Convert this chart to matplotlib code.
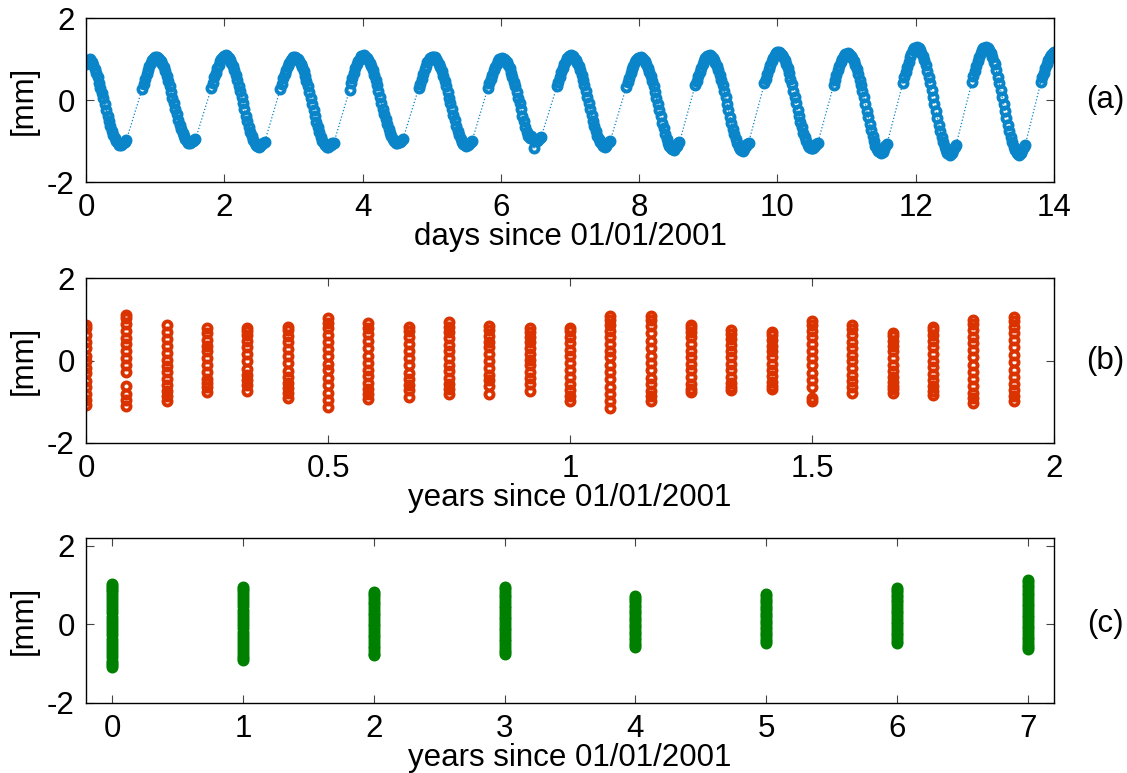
"""Tide-gauge style sampling figure: 14 days of half-hourly samples (a),
monthly snapshots over 2 years (b) and yearly snapshots over 7 years (c)."""

import numpy as np
import matplotlib
matplotlib.use("Agg")
import matplotlib.pyplot as plt

plt.rcParams["font.family"] = ["Liberation Sans", "DejaVu Sans"]
plt.rcParams["axes.unicode_minus"] = False

# --- (a) half-hourly record, days 0..14 ---------------------------------------------
# each day: slots 0..28 (descending limb) then slots 39..47 (rising limb); 29..38 missing
KEPT_SLOTS = list(range(0, 29)) + list(range(39, 48))
SLOTS_PER_DAY = 48

DAY_00 = [0.88, 0.93, 0.97, 0.99, 0.92, 0.86, 0.76, 0.66, 0.55, 0.42, 0.30, 0.17, 0.04, -0.10, -0.24,
          -0.38, -0.51, -0.64, -0.75, -0.85, -0.93, -1.00, -1.05, -1.09, -1.10, -1.08, -1.05, -1.02, -0.98,
          0.27, 0.40, 0.52, 0.63, 0.74, 0.84, 0.90, 0.97, 1.02]
DAY_01 = [1.04, 1.06, 1.03, 1.00, 0.94, 0.88, 0.80, 0.70, 0.58, 0.46, 0.33, 0.20, 0.06, -0.08, -0.22,
          -0.35, -0.48, -0.60, -0.71, -0.81, -0.89, -0.95, -1.00, -1.04, -1.05, -1.03, -1.00, -0.97, -0.96,
          0.29, 0.42, 0.55, 0.66, 0.78, 0.86, 0.95, 1.01, 1.06]
DAY_02 = [1.08, 1.10, 1.07, 1.03, 0.97, 0.90, 0.82, 0.72, 0.61, 0.48, 0.35, 0.21, 0.07, -0.08, -0.23,
          -0.38, -0.52, -0.65, -0.78, -0.89, -0.98, -1.05, -1.10, -1.13, -1.15, -1.12, -1.08, -1.05, -1.03,
          0.28, 0.40, 0.53, 0.64, 0.74, 0.83, 0.91, 0.97, 1.01]
DAY_03 = [1.04, 1.05, 1.03, 1.00, 0.95, 0.88, 0.80, 0.70, 0.59, 0.46, 0.33, 0.20, 0.06, -0.09, -0.24,
          -0.39, -0.53, -0.66, -0.79, -0.90, -0.99, -1.06, -1.10, -1.14, -1.15, -1.13, -1.09, -1.06, -1.05,
          0.25, 0.41, 0.54, 0.67, 0.77, 0.87, 0.95, 1.01, 1.07]
DAY_04 = [1.08, 1.10, 1.06, 1.03, 0.98, 0.91, 0.83, 0.73, 0.62, 0.49, 0.36, 0.22, 0.07, -0.07, -0.21,
          -0.34, -0.47, -0.59, -0.70, -0.80, -0.88, -0.95, -1.00, -1.04, -1.05, -1.03, -1.02, -0.99, -0.96,
          0.29, 0.40, 0.52, 0.64, 0.75, 0.84, 0.92, 0.98, 1.03]
DAY_05 = [1.05, 1.06, 1.04, 1.00, 0.95, 0.89, 0.80, 0.70, 0.59, 0.47, 0.34, 0.20, 0.06, -0.08, -0.23,
          -0.37, -0.50, -0.63, -0.75, -0.86, -0.95, -1.02, -1.07, -1.10, -1.12, -1.10, -1.07, -1.03, -1.00,
          0.29, 0.41, 0.51, 0.62, 0.72, 0.81, 0.89, 0.94, 0.99]
DAY_06 = [1.01, 1.02, 1.00, 0.97, 0.92, 0.85, 0.77, 0.67, 0.57, 0.45, 0.33, 0.19, 0.06, -0.08, -0.23,
          -0.38, -0.52, -0.65, -0.77, -0.88, -0.92, -0.88, -0.96, -1.17, -0.99, -1.01, -0.97, -0.93, -0.90,
          0.34, 0.45, 0.57, 0.68, 0.78, 0.88, 0.96, 1.02, 1.07]
DAY_07 = [1.08, 1.10, 1.07, 1.03, 0.98, 0.91, 0.83, 0.73, 0.62, 0.49, 0.36, 0.22, 0.07, -0.08, -0.23,
          -0.37, -0.51, -0.64, -0.76, -0.87, -0.96, -1.03, -1.08, -1.12, -1.14, -1.11, -1.06, -1.02, -0.99,
          0.32, 0.43, 0.54, 0.65, 0.75, 0.84, 0.92, 0.98, 1.03]
DAY_08 = [1.03, 1.05, 1.03, 0.99, 0.94, 0.88, 0.79, 0.69, 0.58, 0.46, 0.33, 0.20, 0.06, -0.09, -0.25,
          -0.40, -0.55, -0.69, -0.82, -0.94, -1.04, -1.12, -1.17, -1.20, -1.22, -1.18, -1.12, -1.06, -1.03,
          0.37, 0.47, 0.58, 0.69, 0.79, 0.88, 0.96, 1.02, 1.07]
DAY_09 = [1.08, 1.10, 1.07, 1.03, 0.98, 0.91, 0.83, 0.73, 0.62, 0.49, 0.36, 0.22, 0.07, -0.09, -0.25,
          -0.41, -0.56, -0.70, -0.84, -0.96, -1.06, -1.14, -1.19, -1.22, -1.24, -1.20, -1.13, -1.08, -1.04,
          0.41, 0.52, 0.64, 0.75, 0.85, 0.95, 1.03, 1.10, 1.15]
DAY_10 = [1.16, 1.18, 1.15, 1.10, 1.04, 0.97, 0.88, 0.77, 0.65, 0.52, 0.38, 0.23, 0.08, -0.08, -0.24,
          -0.39, -0.53, -0.67, -0.80, -0.91, -1.01, -1.09, -1.14, -1.17, -1.18, -1.16, -1.12, -1.08, -1.05,
          0.37, 0.50, 0.62, 0.73, 0.83, 0.93, 1.01, 1.07, 1.12]
DAY_11 = [1.12, 1.14, 1.12, 1.08, 1.02, 0.95, 0.86, 0.75, 0.63, 0.50, 0.37, 0.22, 0.07, -0.09, -0.26,
          -0.42, -0.58, -0.73, -0.87, -1.00, -1.11, -1.19, -1.25, -1.28, -1.30, -1.26, -1.19, -1.13, -1.08,
          0.41, 0.55, 0.69, 0.81, 0.93, 1.04, 1.13, 1.21, 1.27]
DAY_12 = [1.28, 1.30, 1.27, 1.22, 1.15, 1.07, 0.97, 0.85, 0.71, 0.56, 0.41, 0.25, 0.08, -0.09, -0.27,
          -0.44, -0.60, -0.76, -0.90, -1.03, -1.14, -1.23, -1.29, -1.32, -1.34, -1.30, -1.22, -1.15, -1.10,
          0.45, 0.58, 0.71, 0.83, 0.95, 1.05, 1.14, 1.22, 1.27]
DAY_13 = [1.28, 1.30, 1.27, 1.21, 1.14, 1.04, 0.93, 0.88, 0.72, 0.57, 0.41, 0.25, 0.08, -0.09, -0.27,
          -0.44, -0.60, -0.76, -0.90, -1.03, -1.14, -1.23, -1.29, -1.32, -1.34, -1.30, -1.22, -1.15, -1.10,
          0.45, 0.56, 0.67, 0.78, 0.88, 0.97, 1.04, 1.10, 1.14]
LAST_SAMPLE = 1.18  # day 14, slot 0

TIDE_DAYS = [DAY_00, DAY_01, DAY_02, DAY_03, DAY_04, DAY_05, DAY_06,
             DAY_07, DAY_08, DAY_09, DAY_10, DAY_11, DAY_12, DAY_13]

# --- (b) one day of samples at the start of each month, 24 months -------------------
MONTH_COLUMNS = [
    [0.85, 0.78, 0.62, 0.45, 0.30, 0.12, -0.02, -0.18, -0.30, -0.50, -0.64, -0.80, -0.95, -1.08],
    [1.10, 1.02, 0.88, 0.72, 0.55, 0.40, 0.22, 0.05, -0.10, -0.28, -0.62, -0.80, -0.95, -1.11],
    [0.85, 0.70, 0.52, 0.36, 0.18, 0.02, -0.14, -0.28, -0.45, -0.60, -0.75, -0.87, -0.99],
    [0.80, 0.66, 0.50, 0.36, 0.22, 0.05, -0.12, -0.28, -0.44, -0.55, -0.64, -0.77],
    [0.80, 0.72, 0.62, 0.48, 0.32, 0.15, -0.02, -0.20, -0.36, -0.48, -0.60, -0.73],
    [0.82, 0.74, 0.60, 0.44, 0.27, 0.12, -0.06, -0.25, -0.40, -0.55, -0.66, -0.78, -0.92],
    [1.02, 0.92, 0.80, 0.62, 0.45, 0.28, 0.10, -0.08, -0.24, -0.42, -0.60, -0.78, -0.96, -1.12],
    [0.92, 0.80, 0.64, 0.48, 0.30, 0.12, -0.05, -0.22, -0.38, -0.55, -0.70, -0.82, -0.93],
    [0.82, 0.72, 0.58, 0.40, 0.22, 0.06, -0.12, -0.30, -0.46, -0.60, -0.72, -0.89],
    [0.94, 0.82, 0.68, 0.54, 0.38, 0.22, 0.06, -0.10, -0.26, -0.42, -0.56, -0.70, -0.81],
    [0.84, 0.74, 0.60, 0.46, 0.32, 0.16, 0.00, -0.18, -0.34, -0.48, -0.62, -0.80],
    [0.78, 0.70, 0.58, 0.44, 0.30, 0.16, 0.02, -0.12, -0.28, -0.42, -0.56, -0.73],
    [0.80, 0.72, 0.58, 0.42, 0.26, 0.10, -0.06, -0.22, -0.40, -0.56, -0.72, -0.86, -0.99],
    [1.08, 0.98, 0.86, 0.72, 0.56, 0.40, 0.24, 0.08, -0.10, -0.28, -0.46, -0.64, -0.82, -0.98, -1.14],
    [1.08, 0.98, 0.84, 0.66, 0.48, 0.30, 0.12, -0.06, -0.24, -0.42, -0.58, -0.74, -0.86, -0.99],
    [0.85, 0.80, 0.70, 0.56, 0.40, 0.24, 0.08, -0.08, -0.24, -0.40, -0.56, -0.68, -0.77],
    [0.73, 0.64, 0.52, 0.38, 0.24, 0.08, -0.08, -0.24, -0.40, -0.54, -0.64, -0.71],
    [0.69, 0.62, 0.50, 0.36, 0.22, 0.08, -0.08, -0.24, -0.38, -0.52, -0.62, -0.69],
    [0.96, 0.86, 0.72, 0.56, 0.40, 0.24, 0.06, -0.12, -0.30, -0.48, -0.64, -0.90, -0.99],
    [0.85, 0.76, 0.62, 0.46, 0.30, 0.14, -0.02, -0.18, -0.34, -0.50, -0.64, -0.79],
    [0.67, 0.60, 0.48, 0.36, 0.22, 0.06, -0.10, -0.26, -0.40, -0.52, -0.62, -0.70, -0.79],
    [0.82, 0.74, 0.62, 0.48, 0.32, 0.16, 0.00, -0.16, -0.32, -0.48, -0.62, -0.74, -0.83],
    [0.98, 0.88, 0.74, 0.58, 0.42, 0.26, 0.08, -0.10, -0.28, -0.46, -0.62, -0.78, -0.92, -1.04],
    [1.06, 0.96, 0.82, 0.66, 0.50, 0.32, 0.14, -0.04, -0.22, -0.40, -0.56, -0.72, -0.86, -0.98],
]

# --- (c) samples at the start of each year, 8 years ---------------------------------
YEAR_COLUMNS = [
    [1.03, 0.98, 0.93, 0.88, 0.82, 0.76, 0.68, 0.60, 0.52, 0.44, 0.36, 0.28, 0.20, 0.12, 0.04,
     -0.04, -0.12, -0.20, -0.28, -0.36, -0.44, -0.52, -0.60, -0.68, -0.76, -0.84, -0.92, -0.98, -1.04, -1.09],
    [0.96, 0.90, 0.84, 0.77, 0.70, 0.62, 0.54, 0.46, 0.38, 0.30, 0.22, 0.14, 0.06, -0.02,
     -0.10, -0.18, -0.26, -0.34, -0.42, -0.50, -0.58, -0.66, -0.73, -0.80, -0.86, -0.90],
    [0.83, 0.78, 0.72, 0.65, 0.58, 0.51, 0.44, 0.37, 0.30, 0.23, 0.16, 0.09, 0.02,
     -0.05, -0.12, -0.19, -0.26, -0.33, -0.40, -0.47, -0.54, -0.61, -0.68, -0.74, -0.79],
    [0.96, 0.90, 0.83, 0.76, 0.69, 0.62, 0.55, 0.48, 0.41, 0.34, 0.27, 0.20, 0.13, 0.06,
     -0.01, -0.08, -0.15, -0.22, -0.29, -0.36, -0.43, -0.50, -0.57, -0.64, -0.70, -0.75],
    [0.73, 0.68, 0.62, 0.56, 0.50, 0.44, 0.38, 0.32, 0.26, 0.20, 0.14, 0.08, 0.02,
     -0.04, -0.10, -0.16, -0.22, -0.28, -0.34, -0.40, -0.46, -0.52, -0.58],
    [0.77, 0.72, 0.66, 0.60, 0.54, 0.48, 0.42, 0.36, 0.30, 0.24, 0.18, 0.12, 0.06, 0.00,
     -0.06, -0.12, -0.18, -0.24, -0.30, -0.36, -0.42, -0.48],
    [0.94, 0.88, 0.82, 0.76, 0.70, 0.63, 0.56, 0.49, 0.42, 0.35, 0.28, 0.21, 0.14, 0.07, 0.00,
     -0.07, -0.14, -0.21, -0.28, -0.35, -0.42, -0.48],
    [1.13, 1.07, 1.01, 0.95, 0.88, 0.81, 0.74, 0.67, 0.60, 0.53, 0.46, 0.39, 0.32, 0.25, 0.18,
     0.11, 0.04, -0.03, -0.10, -0.17, -0.24, -0.31, -0.38, -0.45, -0.52, -0.58, -0.62],
]

BLUE, RED, GREEN = "#0b85c9", "#da3300", "#008000"
FS = 22.5

# assemble series
t_a, v_a = [], []
for d, vals in enumerate(TIDE_DAYS):
    assert len(vals) == len(KEPT_SLOTS)
    t_a += [d + k / SLOTS_PER_DAY for k in KEPT_SLOTS]
    v_a += vals
t_a.append(len(TIDE_DAYS))
v_a.append(LAST_SAMPLE)

t_b = np.concatenate([np.full(len(c), m / 12) for m, c in enumerate(MONTH_COLUMNS)])
v_b = np.concatenate(MONTH_COLUMNS)
t_c = np.concatenate([np.full(len(c), float(y)) for y, c in enumerate(YEAR_COLUMNS)])
v_c = np.concatenate(YEAR_COLUMNS)

fig = plt.figure(figsize=(11.27, 7.73), dpi=100)
W, H = 1127, 773
L, R = 86, 1054


def make_ax(top, bottom):
    return fig.add_axes([L / W, 1 - bottom / H, (R - L) / W, (bottom - top) / H])


def style(ax, xlabel, tag):
    ax.tick_params(direction="in", top=True, right=True, length=6, width=0.8,
                   color="#444444", labelsize=FS, pad=8)
    for s in ax.spines.values():
        s.set_linewidth(1.0)
    ax.set_xlabel(xlabel, fontsize=FS, labelpad=-1)
    ax.set_ylabel("[mm]", fontsize=FS, labelpad=6)
    # panel tag right of the axes, level with y = 0
    ax.annotate(tag, xy=(1, 0), xycoords=("axes fraction", "data"),
                xytext=(1105, 0), textcoords=("figure pixels", "offset pixels"),
                ha="center", va="center", fontsize=FS)


mk = dict(marker="o", ms=5.8, mew=2.8, mfc="none")

ax1 = make_ax(18, 182)
ax1.plot(t_a, v_a, linestyle=":", lw=0.9, color=BLUE, mec=BLUE, **mk)
ax1.set_xlim(0, 14)
ax1.set_ylim(-2, 2)
ax1.set_xticks(range(0, 15, 2))
ax1.set_yticks([-2, 0, 2])
style(ax1, "days since 01/01/2001", "(a)")

ax2 = make_ax(278, 443)
ax2.plot(t_b, v_b, linestyle="none", mec=RED, **mk)
ax2.set_xlim(0, 2)
ax2.set_ylim(-2, 2)
ax2.set_xticks([0, 0.5, 1, 1.5, 2])
ax2.set_xticklabels(["0", "0.5", "1", "1.5", "2"])
ax2.set_yticks([-2, 0, 2])
style(ax2, "years since 01/01/2001", "(b)")

ax3 = make_ax(538, 703)
ax3.plot(t_c, v_c, linestyle="none", mec=GREEN, **mk)
ax3.set_xlim(-0.2, 7.2)
ax3.set_ylim(-2, 2.2)
ax3.set_xticks(range(8))
ax3.set_yticks([-2, 0, 2])
style(ax3, "years since 01/01/2001", "(c)")

fig.savefig("out.png", dpi=100)
